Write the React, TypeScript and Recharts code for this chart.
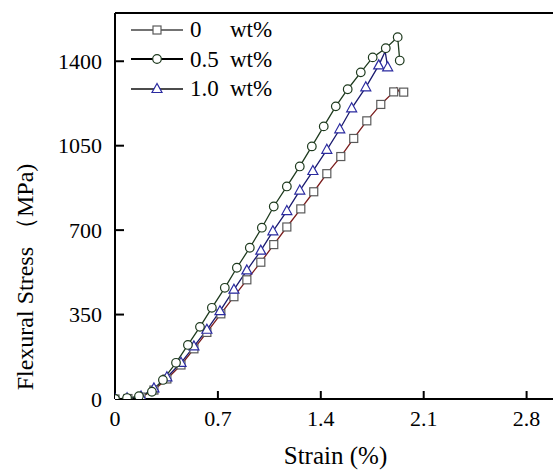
import React from 'react';
import { LineChart, Line, XAxis, YAxis, Legend, ReferenceLine } from 'recharts';

// strain (%) and flexural stress (MPa)
const strain0 = [0, 0.088, 0.177, 0.265, 0.353, 0.449, 0.537, 0.625, 0.72, 0.809, 0.897, 0.992, 1.08, 1.169, 1.264, 1.352, 1.441, 1.536, 1.624, 1.713, 1.808, 1.896, 1.916, 1.937, 1.964];
const stress0 = [0, 2, 8, 37, 83, 141, 208, 276, 353, 424, 494, 567, 640, 713, 788, 859, 934, 1005, 1080, 1153, 1221, 1273, 1290, 1271, 1272];
const unmarked0 = [22, 23];

const strain05 = [0, 0.082, 0.163, 0.251, 0.326, 0.415, 0.496, 0.578, 0.659, 0.747, 0.829, 0.917, 0.999, 1.08, 1.169, 1.257, 1.339, 1.42, 1.502, 1.583, 1.672, 1.753, 1.842, 1.923, 1.937];
const stress05 = [0, 4, 12, 30, 79, 150, 224, 299, 378, 461, 544, 627, 710, 798, 881, 964, 1047, 1130, 1213, 1284, 1354, 1416, 1454, 1500, 1403];
const unmarked05: number[] = [];

const strain10 = [0, 0.082, 0.177, 0.265, 0.353, 0.449, 0.537, 0.625, 0.714, 0.809, 0.897, 0.992, 1.074, 1.169, 1.257, 1.346, 1.441, 1.529, 1.61, 1.706, 1.794, 1.838, 1.855];
const stress10 = [0, 3, 10, 44, 90, 150, 218, 287, 364, 453, 533, 615, 695, 779, 864, 945, 1033, 1118, 1205, 1292, 1383, 1441, 1375];
const unmarked10 = [21];

const xTicks = [0, 0.7, 1.4, 2.1, 2.8];
const yTicks = [0, 350, 700, 1050, 1400];
const legendValues = ['0', '0.5', '1.0'];

const FONT = '"Liberation Serif", "Times New Roman", serif';

const toPoints = (xs: number[], ys: number[]) => xs.map((x, i) => ({ x, y: ys[i] }));

type Shape = 'square' | 'circle' | 'triangle';

const marker = (shape: Shape, cx: number, cy: number, stroke: string, fill: string, key?: string) => {
  if (shape === 'square')
    return <rect key={key} x={cx - 4} y={cy - 4} width={8} height={8} stroke={stroke} fill={fill} strokeWidth={1.2} />;
  if (shape === 'circle')
    return <circle key={key} cx={cx} cy={cy} r={4.3} stroke={stroke} fill={fill} strokeWidth={1.2} />;
  return (
    <polygon
      key={key}
      points={`${cx},${cy - 5.5} ${cx - 5},${cy + 3.5} ${cx + 5},${cy + 3.5}`}
      stroke={stroke}
      fill={fill}
      strokeWidth={1.2}
    />
  );
};

// draws a marker on each point except the skipped ones
const makeDot = (shape: Shape, stroke: string, fill: string, skip: number[]) => (props: any) => {
  const { cx, cy, index } = props;
  const key = `${shape}-${index}`;
  if (skip.includes(index) || cx == null || cy == null) return <g key={key} />;
  return marker(shape, cx, cy, stroke, fill, key);
};

const series = [
  { name: legendValues[0], shape: 'square' as Shape, line: '#7a1c1c', mark: '#5a5a5a', fill: '#fff', legendLine: '#444', data: toPoints(strain0, stress0), skip: unmarked0 },
  { name: legendValues[2], shape: 'triangle' as Shape, line: '#1a1a6e', mark: '#2a2aa0', fill: '#fff', legendLine: '#111', data: toPoints(strain10, stress10), skip: unmarked10 },
  { name: legendValues[1], shape: 'circle' as Shape, line: '#1e3a1e', mark: '#1e3a1e', fill: '#fff', legendLine: '#000', data: toPoints(strain05, stress05), skip: unmarked05 },
];

const legendOrder = [0, 2, 1];

const LegendBox = () => (
  <div style={{ fontFamily: FONT, fontSize: 23, color: '#000' }}>
    {legendOrder.map((i) => {
      const s = series[i];
      return (
        <div key={s.name} style={{ display: 'flex', alignItems: 'center', height: 29.5 }}>
          <svg width={52} height={14} style={{ display: 'block' }}>
            <line x1={0} y1={7} x2={52} y2={7} stroke={s.legendLine} strokeWidth={i === 2 ? 2 : 1.5} />
            {marker(s.shape, 26, 7, s.mark, s.fill)}
          </svg>
          <span style={{ display: 'inline-block', width: 40, marginLeft: 7, lineHeight: 1 }}>{s.name}</span>
          <span style={{ lineHeight: 1 }}>wt%</span>
        </div>
      );
    })}
  </div>
);

export default function App() {
  return (
    <div style={{ position: 'absolute', left: 0, top: 0, width: 553, height: 472, overflow: 'hidden', background: '#fff' }}>
      <LineChart width={560} height={472} margin={{ top: 13, right: 4, bottom: 0, left: 0 }}>
        <XAxis
          type="number"
          dataKey="x"
          domain={[0, 3]}
          ticks={xTicks}
          allowDataOverflow
          height={73}
          stroke="#000"
          strokeWidth={2}
          tickSize={-8}
          tickMargin={19}
          tick={{ fill: '#000', fontSize: 22, fontFamily: FONT }}
          tickFormatter={(v: number) => String(v)}
          label={({ viewBox }: any) => (
            <text x={viewBox.x + viewBox.width / 2} y={viewBox.y + 65} textAnchor="middle" fontSize={25} fontFamily={FONT} fill="#000">
              Strain (%)
            </text>
          )}
        />
        <YAxis
          type="number"
          dataKey="y"
          domain={[0, 1600]}
          ticks={yTicks}
          allowDataOverflow
          width={115}
          stroke="#000"
          strokeWidth={2}
          tickSize={-9}
          tickMargin={22}
          tick={{ fill: '#000', fontSize: 22, fontFamily: FONT }}
          label={({ viewBox }: any) => {
            const cx = viewBox.x + 25;
            const cy = viewBox.y + 264;
            return (
              <text x={cx} y={cy} transform={`rotate(-90, ${cx}, ${cy})`} textAnchor="middle" dominantBaseline="central" fontSize={24} fontFamily={FONT} fill="#000">
                Flexural Stress （MPa)
              </text>
            );
          }}
        />
        <ReferenceLine y={1600} stroke="#000" strokeWidth={2} />
        <Legend
          layout="vertical"
          align="center"
          verticalAlign="middle"
          wrapperStyle={{ left: 131, top: 15, width: 'auto' }}
          content={() => <LegendBox />}
        />
        {series.map((s) => (
          <Line
            key={s.name}
            data={s.data}
            dataKey="y"
            type="linear"
            stroke={s.line}
            strokeWidth={1.3}
            dot={makeDot(s.shape, s.mark, s.fill, s.skip)}
            activeDot={false}
            isAnimationActive={false}
          />
        ))}
      </LineChart>
    </div>
  );
}
